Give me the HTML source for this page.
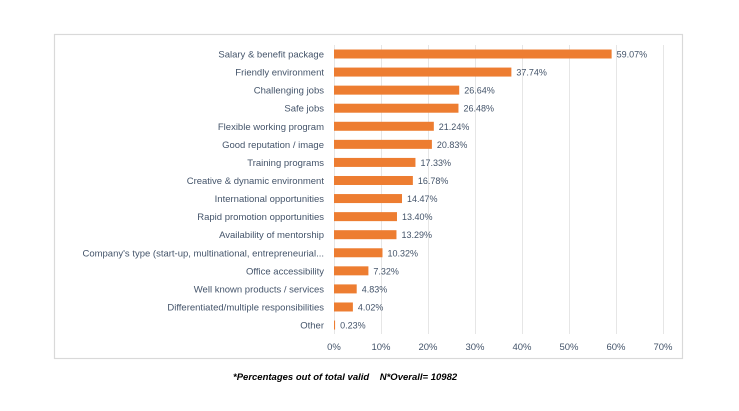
<!DOCTYPE html>
<html><head><style>
body{margin:0;background:#fff;}
svg{display:block;font-family:"Liberation Sans",sans-serif;}
</style></head><body>
<svg width="739" height="411" xmlns="http://www.w3.org/2000/svg">
<rect x="54.5" y="34.5" width="628" height="324" fill="#fff" stroke="#d9d9d9" stroke-width="1.2"/>
<g stroke="#e6e6e6" stroke-width="1">
<line x1="334.5" y1="45" x2="334.5" y2="334"/>
<line x1="381.5" y1="45" x2="381.5" y2="334"/>
<line x1="428.5" y1="45" x2="428.5" y2="334"/>
<line x1="475.5" y1="45" x2="475.5" y2="334"/>
<line x1="522.5" y1="45" x2="522.5" y2="334"/>
<line x1="569.5" y1="45" x2="569.5" y2="334"/>
<line x1="616.5" y1="45" x2="616.5" y2="334"/>
<line x1="663.5" y1="45" x2="663.5" y2="334"/>
</g>
<g font-size="9.5" fill="#44546a" text-anchor="middle">
<text x="334" y="350">0%</text><text x="381" y="350">10%</text><text x="428" y="350">20%</text><text x="475" y="350">30%</text><text x="522" y="350">40%</text><text x="569" y="350">50%</text><text x="616" y="350">60%</text><text x="663" y="350">70%</text>
</g>
<g fill="#ed7d31">
<rect x="334" y="49.5" width="277.63" height="9"/>
<rect x="334" y="67.57" width="177.38" height="9"/>
<rect x="334" y="85.64" width="125.21" height="9"/>
<rect x="334" y="103.71" width="124.46" height="9"/>
<rect x="334" y="121.78" width="99.83" height="9"/>
<rect x="334" y="139.85" width="97.9" height="9"/>
<rect x="334" y="157.92" width="81.45" height="9"/>
<rect x="334" y="175.99" width="78.87" height="9"/>
<rect x="334" y="194.06" width="68.01" height="9"/>
<rect x="334" y="212.13" width="62.98" height="9"/>
<rect x="334" y="230.2" width="62.46" height="9"/>
<rect x="334" y="248.27" width="48.5" height="9"/>
<rect x="334" y="266.34" width="34.4" height="9"/>
<rect x="334" y="284.41" width="22.7" height="9"/>
<rect x="334" y="302.48" width="18.89" height="9"/>
<rect x="334" y="320.55" width="1.08" height="9"/>
</g>
<g font-size="9.5" fill="#44546a" text-anchor="end">
<text x="324" y="57.5">Salary &amp; benefit package</text>
<text x="324" y="75.57">Friendly environment</text>
<text x="324" y="93.64">Challenging jobs</text>
<text x="324" y="111.71">Safe jobs</text>
<text x="324" y="129.78">Flexible working program</text>
<text x="324" y="147.85">Good reputation / image</text>
<text x="324" y="165.92">Training programs</text>
<text x="324" y="183.99">Creative &amp; dynamic environment</text>
<text x="324" y="202.06">International opportunities</text>
<text x="324" y="220.13">Rapid promotion opportunities</text>
<text x="324" y="238.2">Availability of mentorship</text>
<text x="324" y="256.27">Company's type (start-up, multinational, entrepreneurial...</text>
<text x="324" y="274.34">Office accessibility</text>
<text x="324" y="292.41">Well known products / services</text>
<text x="324" y="310.48">Differentiated/multiple responsibilities</text>
<text x="324" y="328.55">Other</text>
</g>
<g font-size="9" fill="#44546a">
<text x="616.6" y="57.5">59.07%</text>
<text x="516.4" y="75.57">37.74%</text>
<text x="464.2" y="93.64">26.64%</text>
<text x="463.5" y="111.71">26.48%</text>
<text x="438.8" y="129.78">21.24%</text>
<text x="436.9" y="147.85">20.83%</text>
<text x="420.5" y="165.92">17.33%</text>
<text x="417.9" y="183.99">16.78%</text>
<text x="407" y="202.06">14.47%</text>
<text x="402" y="220.13">13.40%</text>
<text x="401.5" y="238.2">13.29%</text>
<text x="387.5" y="256.27">10.32%</text>
<text x="373.4" y="274.34">7.32%</text>
<text x="361.7" y="292.41">4.83%</text>
<text x="357.9" y="310.48">4.02%</text>
<text x="340.1" y="328.55">0.23%</text>
</g>
<text x="233" y="380" font-size="9.5" font-style="italic" font-weight="bold" fill="#000" xml:space="preserve">*Percentages out of total valid    N*Overall= 10982</text>
</svg>
</body></html>
